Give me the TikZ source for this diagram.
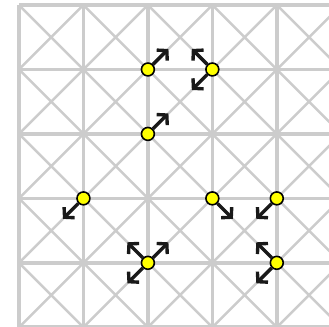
\documentclass[tikz,border=0pt]{standalone}
\usepackage{xcolor}
\usepackage{tikz}
\usetikzlibrary{arrows.meta}
\definecolor{gridgray}{HTML}{CCCCCC}
\definecolor{dotyellow}{HTML}{FFFF00}
\tikzstyle{gridline} = [gridgray, line width=1.6pt]
\tikzstyle{diagline} = [gridgray, line width=1.1pt]
\tikzstyle{piece} = [circle, draw=black, line width=0.7pt, fill=dotyellow,
    inner sep=0pt, minimum size=0.2cm]
\tikzstyle{move} = [-{Straight Barb[length=3pt,width=6.6pt]}, line width=1.5pt, black!90]

\begin{document}
\begin{tikzpicture}
\useasboundingbox (-0.295,0.078) rectangle (4.81,-4.99);
\begin{scope}
\clip (-0.295,0.078) rectangle (4.81,-4.99);
% diagonals of every cell
\foreach \i in {0,...,4}
  \foreach \j in {0,...,4}
    \draw[diagline] (\i,-\j) -- (\i+1,-\j-1) (\i+1,-\j) -- (\i,-\j-1);
% board lines
\foreach \i in {0,...,5} \draw[gridline] (\i,0) -- (\i,-5);
\foreach \j in {0,...,5} \draw[gridline] (0,-\j) -- (5.2,-\j);
\end{scope}

% pieces
\node[piece] (p21) at (2,-1) {};
\node[piece] (p31) at (3,-1) {};
\node[piece] (p22) at (2,-2) {};
\node[piece] (p13) at (1,-3) {};
\node[piece] (p33) at (3,-3) {};
\node[piece] (p43) at (4,-3) {};
\node[piece] (p24) at (2,-4) {};
\node[piece] (p44) at (4,-4) {};

% moves
\foreach \p/\a in {p21/45, p31/135, p31/225, p22/45, p13/225, p33/315,
                   p43/225, p24/135, p24/45, p24/225, p44/135, p44/225}
  \draw[move] (\p) -- +(\a:0.45);
\end{tikzpicture}
\end{document}
